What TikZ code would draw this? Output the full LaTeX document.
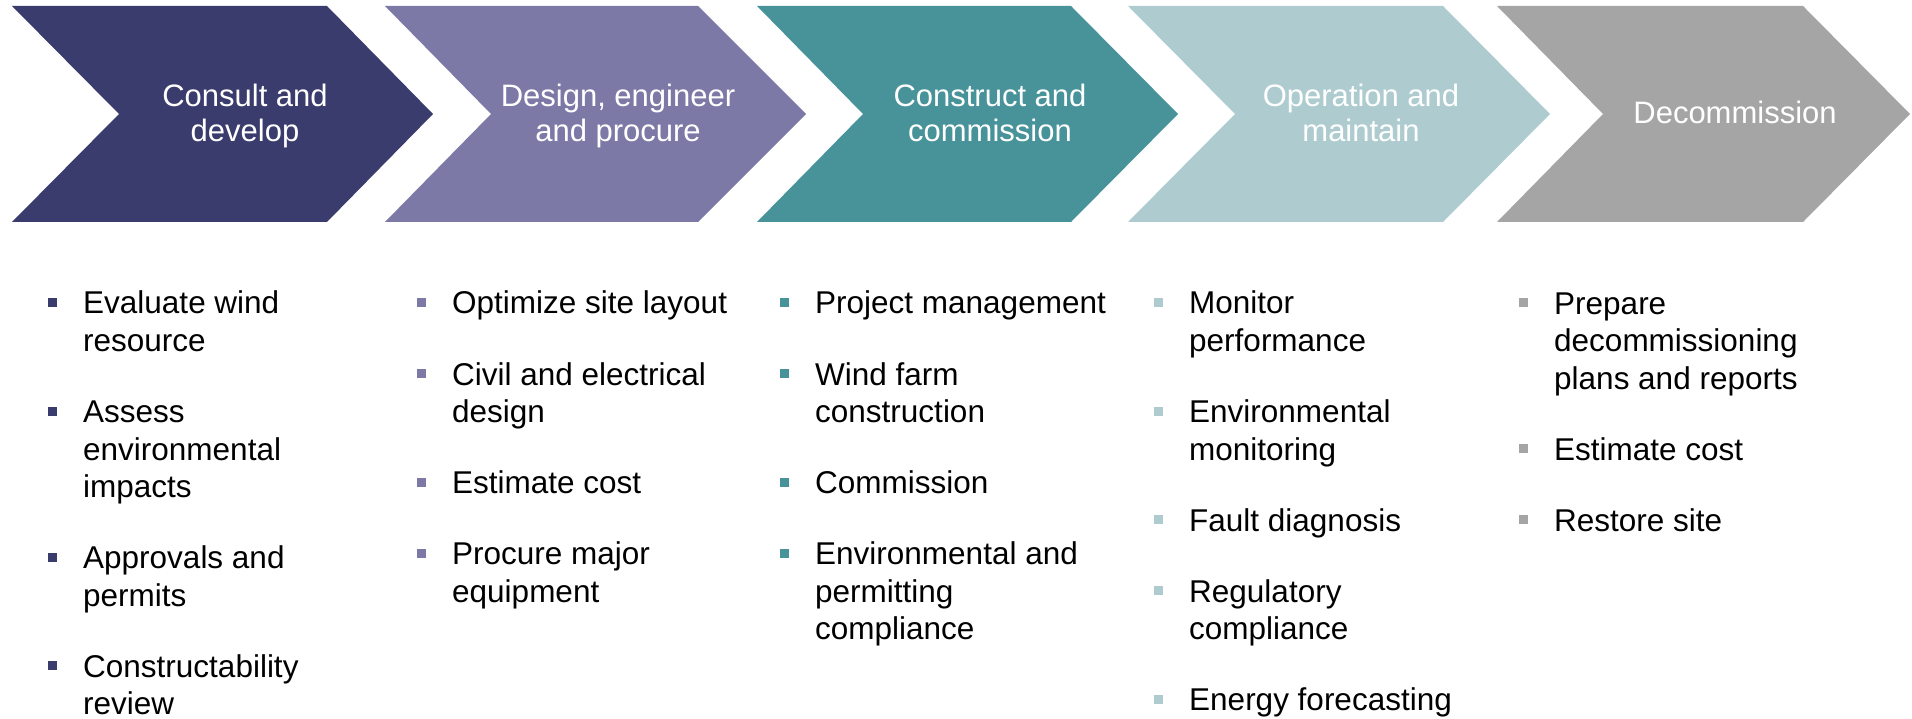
\documentclass[tikz,border=0pt]{standalone}
\usepackage{fontspec}
\setmainfont{Liberation Sans}
\definecolor{cA}{HTML}{3B3C6E}
\definecolor{cB}{HTML}{7C79A7}
\definecolor{cC}{HTML}{48939A}
\definecolor{cD}{HTML}{AECCD0}
\definecolor{cE}{HTML}{A5A5A5}
\tikzset{
  head/.style={text=white, font=\fontsize{31}{35}\selectfont, align=center, anchor=base, inner sep=0pt},
  body/.style={text=black, font=\fontsize{31.5}{37.5}\selectfont, align=left, anchor=base west, inner sep=0pt},
  bul/.style={rectangle, minimum size=9pt, inner sep=0pt, outer sep=0pt, draw=none},
}
% name, x, first baseline, last baseline, colour, text
\newcommand\bitem[6]{%
  \node[bul, fill=#5] (#1b) at (#2-30.5, #3-11.5) {};
  \node[body] (#1) at (#2,#4) {#6};
}
\begin{document}
\begin{tikzpicture}[x=1pt, y=-1pt]
\path[use as bounding box] (0,0) rectangle (1912,719);
% chevrons
\fill[cA] (12,6) -- (327,6) -- (433,114) -- (327,222) -- (12,222) -- (119,114) -- cycle;
\fill[cB] (385,6) -- (698,6) -- (806,114) -- (698,222) -- (385,222) -- (491,114) -- cycle;
\fill[cC] (757,6) -- (1071,6) -- (1178,114) -- (1071,222) -- (757,222) -- (863,114) -- cycle;
\fill[cD] (1128,6) -- (1443,6) -- (1550,114) -- (1443,222) -- (1128,222) -- (1235,114) -- cycle;
\fill[cE] (1497,6) -- (1803,6) -- (1910,114) -- (1803,222) -- (1497,222) -- (1603,114) -- cycle;
% headers (anchor = baseline of last line)
\node[head] (h1) at (245,142) {Consult and\\develop};
\node[head] (h2) at (618,142) {Design, engineer\\and procure};
\node[head] (h3) at (990,142) {Construct and\\commission};
\node[head] (h4) at (1361,142) {Operation and\\maintain};
\node[head] (h5) at (1735,124) {Decommission};
% column 1
\bitem{a1}{83}{314}{351.5}{cA}{Evaluate wind\\resource}
\bitem{a2}{83}{422.5}{497.5}{cA}{Assess\\environmental\\impacts}
\bitem{a3}{83}{568.5}{606}{cA}{Approvals and\\permits}
\bitem{a4}{83}{677}{714.5}{cA}{Constructability\\review}
% column 2
\bitem{b1}{452}{314}{314}{cB}{Optimize site layout}
\bitem{b2}{452}{385}{422.5}{cB}{Civil and electrical\\design}
\bitem{b3}{452}{493.5}{493.5}{cB}{Estimate cost}
\bitem{b4}{452}{564.5}{602}{cB}{Procure major\\equipment}
% column 3
\bitem{c1}{815}{314}{314}{cC}{Project management}
\bitem{c2}{815}{385}{422.5}{cC}{Wind farm\\construction}
\bitem{c3}{815}{493.5}{493.5}{cC}{Commission}
\bitem{c4}{815}{564.5}{639.5}{cC}{Environmental and\\permitting\\compliance}
% column 4
\bitem{d1}{1189}{314}{351.5}{cD}{Monitor\\performance}
\bitem{d2}{1189}{422.5}{460}{cD}{Environmental\\monitoring}
\bitem{d3}{1189}{531}{531}{cD}{Fault diagnosis}
\bitem{d4}{1189}{602}{639.5}{cD}{Regulatory\\compliance}
\bitem{d5}{1189}{710.5}{710.5}{cD}{Energy forecasting}
% column 5
\bitem{e1}{1554}{314}{389}{cE}{Prepare\\decommissioning\\plans and reports}
\bitem{e2}{1554}{460}{460}{cE}{Estimate cost}
\bitem{e3}{1554}{531}{531}{cE}{Restore site}
\end{tikzpicture}
\end{document}
